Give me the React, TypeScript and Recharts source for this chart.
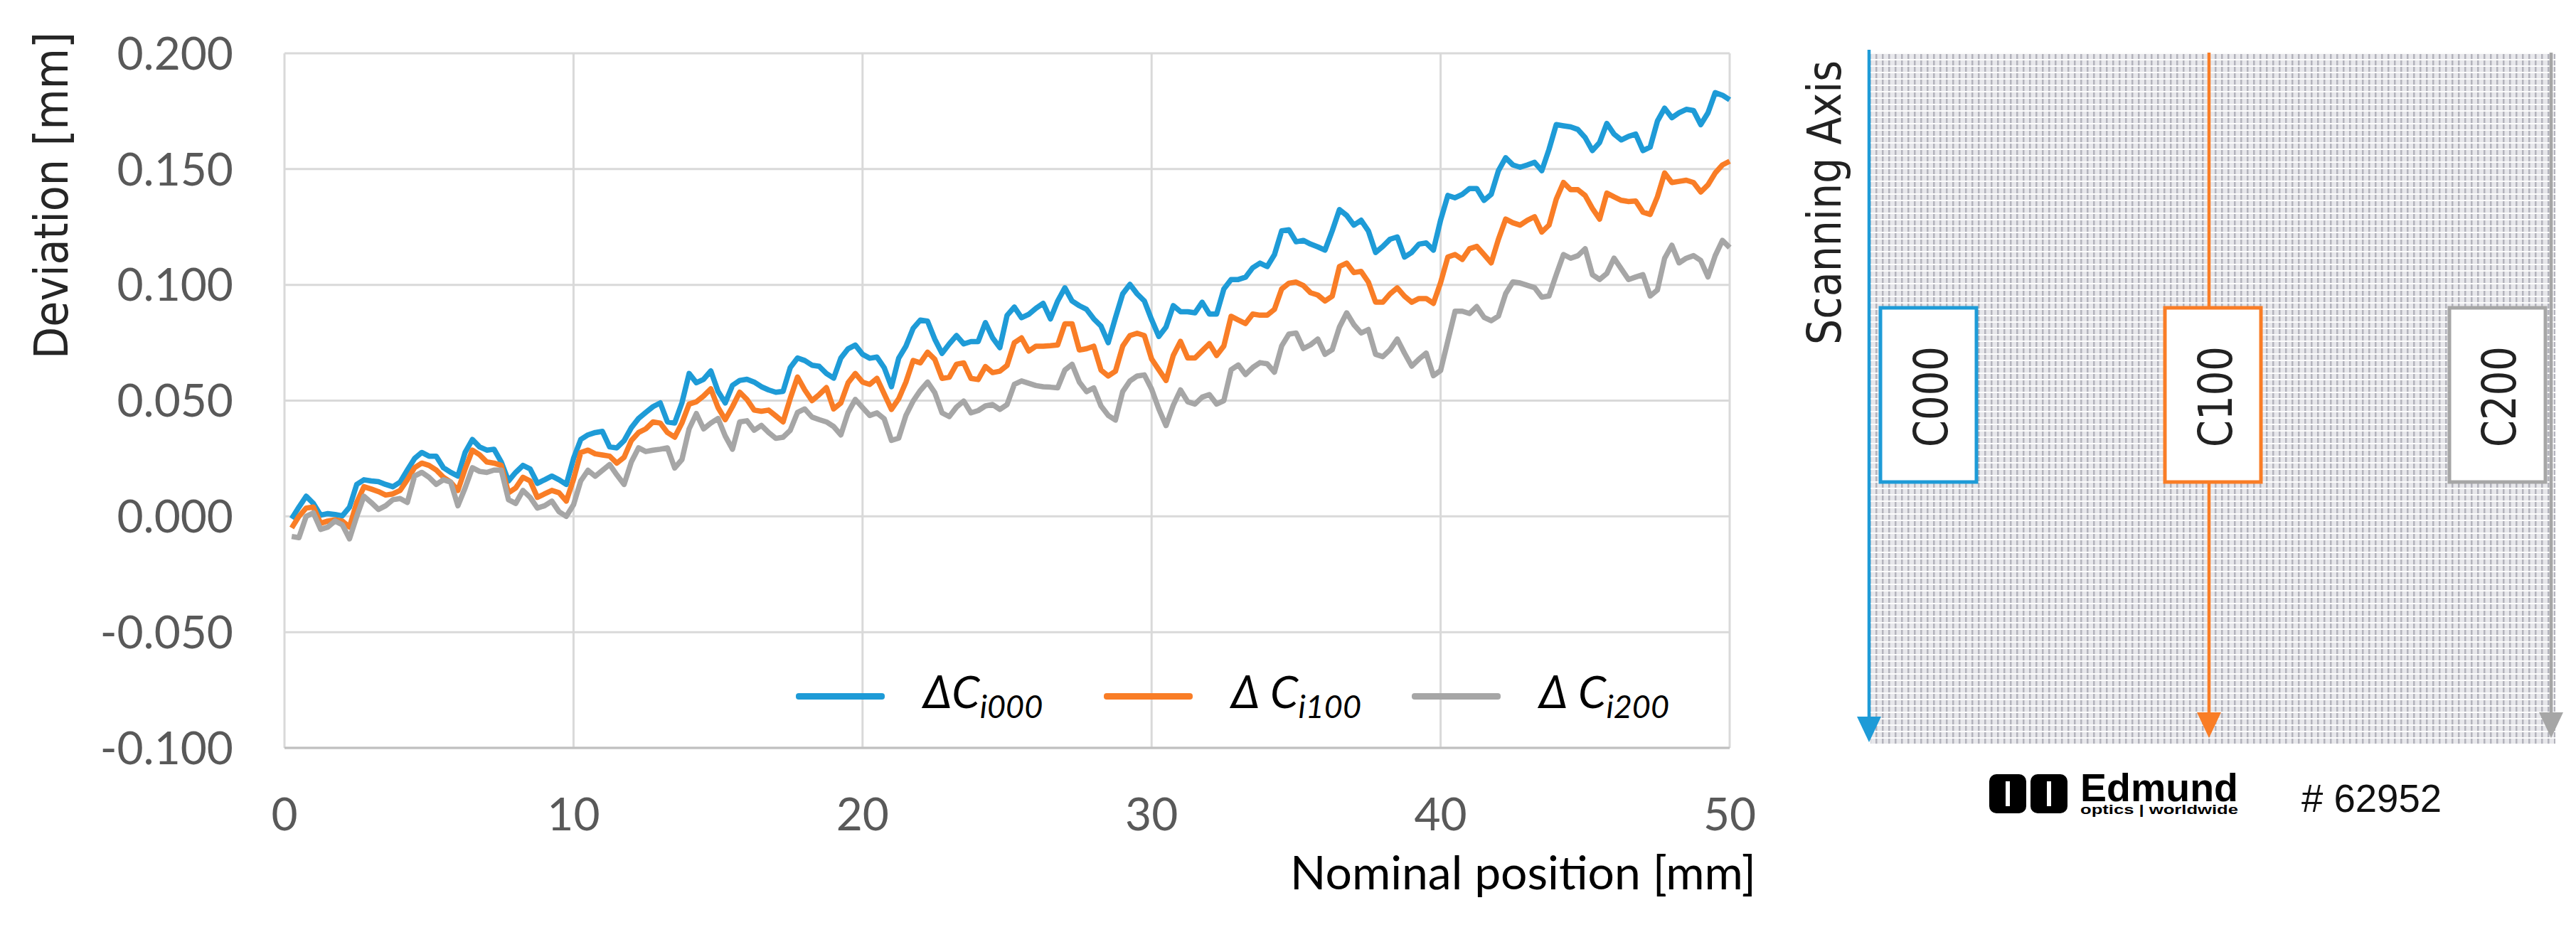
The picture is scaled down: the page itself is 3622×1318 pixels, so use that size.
import { CartesianGrid, Legend, Line, LineChart, XAxis, YAxis } from 'recharts';

// nominal positions along the scan, mm (0.25 mm sampling)
const POSITIONS = Array.from({ length: 200 }, (_, i) => (i + 1) * 0.25);

// deviation per line, mm
const C000 = [
  -0.001, 0.004, 0.0087, 0.0056, 0.0005, 0.0012, 0.0008, 0.0002, 0.004, 0.0138, 0.0158, 0.0153, 0.015, 0.0138, 0.0128, 0.0148, 0.02, 0.025, 0.0276, 0.026,
  0.026, 0.021, 0.019, 0.0174, 0.0276, 0.0332, 0.03, 0.0286, 0.029, 0.0235, 0.0153, 0.019, 0.022, 0.0205, 0.0143, 0.0158, 0.0174, 0.0158, 0.0138, 0.025,
  0.0332, 0.0352, 0.0362, 0.0367, 0.03, 0.0296, 0.0327, 0.0383, 0.0423, 0.0449, 0.0474, 0.049, 0.0408, 0.0403, 0.049, 0.0617, 0.0577, 0.0592, 0.0628, 0.054,
  0.049, 0.0566, 0.0587, 0.0592, 0.058, 0.056, 0.0546, 0.0536, 0.054, 0.0643, 0.0684, 0.0673, 0.0653, 0.0648, 0.0617, 0.0597, 0.0684, 0.0724, 0.074, 0.07,
  0.0683, 0.0688, 0.0642, 0.056, 0.0683, 0.0735, 0.0812, 0.0848, 0.0843, 0.0765, 0.0704, 0.0745, 0.0781, 0.0745, 0.0755, 0.0755, 0.0837, 0.0771, 0.0729, 0.0868,
  0.0904, 0.0858, 0.0873, 0.0899, 0.092, 0.0853, 0.093, 0.0987, 0.093, 0.091, 0.0894, 0.0853, 0.0822, 0.075, 0.0858, 0.0961, 0.1002, 0.0961, 0.093, 0.085,
  0.0777, 0.0818, 0.091, 0.0884, 0.0884, 0.0879, 0.0925, 0.0874, 0.0874, 0.0982, 0.1023, 0.1023, 0.1033, 0.1074, 0.1094, 0.1079, 0.113, 0.1233, 0.1238, 0.1186,
  0.1192, 0.1176, 0.1164, 0.115, 0.1233, 0.1325, 0.13, 0.1258, 0.1279, 0.1233, 0.114, 0.1166, 0.1197, 0.1207, 0.112, 0.114, 0.1176, 0.1181, 0.115, 0.128,
  0.1386, 0.1376, 0.1391, 0.1416, 0.1416, 0.1365, 0.1391, 0.1493, 0.1549, 0.1518, 0.1508, 0.1518, 0.1529, 0.1493, 0.1585, 0.1692, 0.1687, 0.1682, 0.1671, 0.1636,
  0.158, 0.1615, 0.1697, 0.1651, 0.1626, 0.1641, 0.1651, 0.158, 0.1595, 0.1707, 0.1763, 0.1722, 0.1743, 0.1758, 0.1753, 0.1692, 0.1743, 0.183, 0.1819, 0.1799,
];

const C100 = [
  -0.005, 0.0, 0.0036, 0.004, -0.003, -0.002, -0.0015, -0.002, -0.0046, 0.006, 0.0128, 0.0118, 0.0107, 0.0092, 0.0097, 0.0112, 0.0158, 0.021, 0.023, 0.022,
  0.02, 0.0169, 0.0148, 0.0112, 0.0205, 0.0286, 0.0266, 0.0235, 0.023, 0.022, 0.0102, 0.0123, 0.0169, 0.0153, 0.0082, 0.0097, 0.0112, 0.0102, 0.0066, 0.016,
  0.0276, 0.0286, 0.027, 0.0265, 0.026, 0.023, 0.0255, 0.0327, 0.0362, 0.0378, 0.0408, 0.0403, 0.0362, 0.0342, 0.0403, 0.0485, 0.0495, 0.052, 0.0551, 0.047,
  0.0418, 0.0474, 0.0536, 0.0505, 0.0459, 0.0454, 0.0459, 0.0434, 0.0408, 0.051, 0.0602, 0.0546, 0.05, 0.0526, 0.0556, 0.0464, 0.049, 0.0577, 0.0617, 0.058,
  0.057, 0.0596, 0.0529, 0.0462, 0.0508, 0.058, 0.0673, 0.0663, 0.0709, 0.0678, 0.0596, 0.0601, 0.0657, 0.0663, 0.0596, 0.0591, 0.0647, 0.0621, 0.0627, 0.0652,
  0.075, 0.0771, 0.0714, 0.0735, 0.0735, 0.0737, 0.074, 0.0832, 0.0832, 0.0719, 0.0724, 0.0735, 0.0632, 0.0606, 0.0627, 0.0735, 0.0781, 0.0791, 0.0781, 0.068,
  0.0633, 0.0587, 0.0695, 0.0756, 0.0684, 0.0684, 0.0715, 0.0746, 0.0695, 0.0736, 0.0864, 0.0848, 0.0833, 0.0874, 0.0869, 0.0869, 0.0894, 0.0982, 0.1007, 0.1012,
  0.0997, 0.0966, 0.0956, 0.093, 0.0951, 0.1079, 0.1094, 0.1053, 0.1058, 0.1012, 0.0925, 0.0925, 0.0961, 0.0987, 0.0951, 0.0925, 0.0941, 0.0941, 0.092, 0.101,
  0.112, 0.1131, 0.111, 0.1156, 0.1166, 0.1131, 0.1095, 0.1197, 0.1284, 0.1268, 0.1258, 0.1279, 0.1294, 0.1228, 0.1258, 0.137, 0.1442, 0.1411, 0.1411, 0.1386,
  0.133, 0.1284, 0.1396, 0.138, 0.1365, 0.136, 0.1362, 0.1314, 0.1304, 0.138, 0.1483, 0.1442, 0.1447, 0.1452, 0.1442, 0.1401, 0.1432, 0.1483, 0.1518, 0.1534,
];

const C200 = [
  -0.0087, -0.0092, 0.0, 0.0015, -0.0056, -0.0046, -0.002, -0.0036, -0.0097, 0.0, 0.0087, 0.006, 0.003, 0.0046, 0.0072, 0.0077, 0.006, 0.0174, 0.019, 0.0169,
  0.0138, 0.0158, 0.0148, 0.0046, 0.0123, 0.021, 0.0194, 0.019, 0.02, 0.02, 0.0072, 0.0056, 0.0112, 0.0082, 0.0036, 0.0046, 0.0066, 0.002, 0.0, 0.005,
  0.0153, 0.0199, 0.0173, 0.0199, 0.0224, 0.0179, 0.0138, 0.0235, 0.0296, 0.028, 0.0286, 0.029, 0.0296, 0.0209, 0.0245, 0.0378, 0.0444, 0.0378, 0.0403, 0.0423,
  0.0347, 0.029, 0.0408, 0.0413, 0.0372, 0.0393, 0.0362, 0.0337, 0.0342, 0.0372, 0.0449, 0.0464, 0.0429, 0.0418, 0.0408, 0.0388, 0.0352, 0.0449, 0.0505, 0.047,
  0.0436, 0.0447, 0.0421, 0.0328, 0.0338, 0.0436, 0.0498, 0.0544, 0.058, 0.0534, 0.0447, 0.0431, 0.0472, 0.0498, 0.0447, 0.0457, 0.0477, 0.0483, 0.0462, 0.0483,
  0.057, 0.0585, 0.0575, 0.0565, 0.056, 0.0558, 0.0555, 0.0632, 0.0657, 0.058, 0.0539, 0.0555, 0.0477, 0.0436, 0.0416, 0.0539, 0.0585, 0.0606, 0.0611, 0.055,
  0.0464, 0.0392, 0.048, 0.0546, 0.0495, 0.0485, 0.0515, 0.0526, 0.0485, 0.05, 0.0633, 0.0654, 0.0613, 0.0643, 0.0664, 0.0659, 0.0623, 0.0736, 0.0787, 0.0792,
  0.0725, 0.0741, 0.0766, 0.07, 0.072, 0.0818, 0.0879, 0.0828, 0.0792, 0.0807, 0.07, 0.069, 0.072, 0.0766, 0.0705, 0.0649, 0.0679, 0.0705, 0.0608, 0.063,
  0.0758, 0.0886, 0.0886, 0.0876, 0.0906, 0.086, 0.0845, 0.0865, 0.0962, 0.1013, 0.1008, 0.0998, 0.0988, 0.0947, 0.0952, 0.1044, 0.1131, 0.1115, 0.1126, 0.1156,
  0.1044, 0.1023, 0.1049, 0.1115, 0.1069, 0.1023, 0.1034, 0.1044, 0.0952, 0.0978, 0.1115, 0.1171, 0.1095, 0.1115, 0.1126, 0.1105, 0.1034, 0.1126, 0.1192, 0.1161,
];

const X_TICKS = [0, 10, 20, 30, 40, 50];
const Y_TICKS = [-0.1, -0.05, 0, 0.05, 0.1, 0.15, 0.2];

const SERIES = [
  { key: 'c000', base: 'ΔC', sub: 'i000', color: '#1E9BD7', box: 'C000' },
  { key: 'c100', base: 'Δ C', sub: 'i100', color: '#F97D26', box: 'C100' },
  { key: 'c200', base: 'Δ C', sub: 'i200', color: '#A6A6A6', box: 'C200' },
];

const data = POSITIONS.map((x, i) => ({ x, c000: C000[i], c100: C100[i], c200: C200[i] }));

function LegendContent({ payload }: any) {
  return (
    <div style={{ display: 'flex', height: 80 }}>
      {(payload ?? []).map((p: any) => {
        const s = SERIES.find((d) => d.key === p.dataKey) ?? SERIES[0];
        return (
          <div key={s.key} style={{ display: 'flex', alignItems: 'center', width: 433 }}>
            <div style={{ width: 125, height: 9, borderRadius: 4, background: p.color }} />
            <span
              style={{
                marginLeft: 54,
                fontFamily: 'Lato',
                fontStyle: 'italic',
                fontSize: 63,
                lineHeight: 1,
                color: '#000',
                position: 'relative',
                top: -8,
                whiteSpace: 'nowrap',
              }}
            >
              {s.base}
              <sub style={{ fontSize: 45, lineHeight: 0, verticalAlign: '-0.32em' }}>{s.sub}</sub>
            </span>
          </div>
        );
      })}
    </div>
  );
}

function ScanPanel() {
  const lineX = [2628, 3106, 3587];
  const tipY = [1044, 1038, 1038];
  const boxX = [2644, 3044, 3444];
  const textX = [2738, 3138, 3537];
  return (
    <g>
      <defs>
        <pattern id="mesh" x={2628} y={74} width={9} height={9} patternUnits="userSpaceOnUse">
          <rect width={9} height={9} fill="#e7e7eb" />
          <rect width={2.5} height={9} fill="#b3b3bc" />
          <rect width={9} height={2} fill="#fcfcfc" />
        </pattern>
      </defs>
      <rect x={2630} y={74} width={963} height={972} fill="url(#mesh)" />
      <text
        x={2588}
        y={285}
        transform="rotate(-90 2588 285)"
        textAnchor="middle"
        fontFamily="DejaVu Sans"
        fontSize={66}
        textLength={400}
        lengthAdjust="spacingAndGlyphs"
        fill="#222"
      >
        Scanning Axis
      </text>
      {SERIES.map((s, i) => (
        <g key={s.key}>
          <line x1={lineX[i]} x2={lineX[i]} y1={i === 0 ? 70 : 74} y2={tipY[i] - 30} stroke={s.color} strokeWidth={4.5} />
          <polygon
            points={`${lineX[i] - 17},${tipY[i] - 36} ${lineX[i] + 17},${tipY[i] - 36} ${lineX[i]},${tipY[i]}`}
            fill={s.color}
          />
          <rect x={boxX[i]} y={433} width={135} height={245} fill="#fff" stroke={s.color} strokeWidth={5} />
          <text
            x={textX[i]}
            y={558}
            transform={`rotate(-90 ${textX[i]} 558)`}
            textAnchor="middle"
            fontFamily="DejaVu Sans"
            fontSize={66}
            textLength={142}
            lengthAdjust="spacingAndGlyphs"
            fill="#222"
          >
            {s.box}
          </text>
        </g>
      ))}
      {/* Edmund logo */}
      <rect x={2797} y={1089} width={52} height={55} rx={10} fill="#000" />
      <rect x={2855} y={1089} width={52} height={55} rx={10} fill="#000" />
      <rect x={2820} y={1099} width={6} height={35} fill="#fff" />
      <rect x={2878} y={1099} width={6} height={35} fill="#fff" />
      <text x={2925} y={1127} fontFamily="Liberation Sans" fontWeight="bold" fontSize={55} textLength={222} lengthAdjust="spacingAndGlyphs" fill="#000">
        Edmund
      </text>
      <text x={2925} y={1145} fontFamily="Liberation Sans" fontWeight="bold" fontSize={19} textLength={222} lengthAdjust="spacingAndGlyphs" fill="#000">
        optics | worldwide
      </text>
      <text x={3236} y={1142} fontFamily="Liberation Sans" fontSize={55} textLength={197} lengthAdjust="spacingAndGlyphs" fill="#111">
        # 62952
      </text>
    </g>
  );
}

export default function App() {
  const tick = { fill: '#595959', fontSize: 64, fontFamily: 'Lato' };
  return (
    <div style={{ position: 'absolute', left: 0, top: 0, width: 3622, height: 1318, background: '#fff' }}>
      <div style={{ position: 'absolute', left: 0, top: 0 }}>
        <LineChart width={2520} height={1318} data={data} margin={{ top: 75, right: 88, bottom: 67, left: 320 }}>
          <CartesianGrid stroke="#d9d9d9" strokeWidth={3} />
          <XAxis
            type="number"
            dataKey="x"
            domain={[0, 50]}
            ticks={X_TICKS}
            tick={tick}
            tickLine={false}
            tickSize={0}
            tickMargin={71}
            height={199}
            axisLine={{ stroke: '#bfbfbf', strokeWidth: 3 }}
            label={{
              value: 'Nominal position [mm]',
              position: 'insideBottomRight',
              offset: 0,
              dx: 37,
              fill: '#000',
              fontSize: 66,
              fontFamily: 'Lato',
            }}
          />
          <YAxis
            type="number"
            domain={[-0.1, 0.2]}
            ticks={Y_TICKS}
            tick={tick}
            tickFormatter={(v: number) => v.toFixed(3)}
            tickLine={false}
            tickSize={0}
            tickMargin={72}
            width={80}
            axisLine={false}
          />
          {SERIES.map((s) => (
            <Line
              key={s.key}
              type="linear"
              dataKey={s.key}
              stroke={s.color}
              strokeWidth={7.5}
              strokeLinejoin="round"
              dot={false}
              activeDot={false}
              isAnimationActive={false}
            />
          ))}
          <Legend
            layout="horizontal"
            verticalAlign="middle"
            align="center"
            content={<LegendContent />}
            wrapperStyle={{ left: 1119, top: 939, width: 1320, height: 80 }}
          />
        </LineChart>
      </div>
      <svg
        width={3622}
        height={1318}
        style={{ position: 'absolute', left: 0, top: 0, pointerEvents: 'none' }}
      >
        <text
          x={95}
          y={275}
          transform="rotate(-90 95 275)"
          textAnchor="middle"
          fontFamily="DejaVu Sans"
          fontSize={66}
          textLength={460}
          lengthAdjust="spacingAndGlyphs"
          fill="#262626"
        >
          Deviation [mm]
        </text>
        <ScanPanel />
      </svg>
    </div>
  );
}
